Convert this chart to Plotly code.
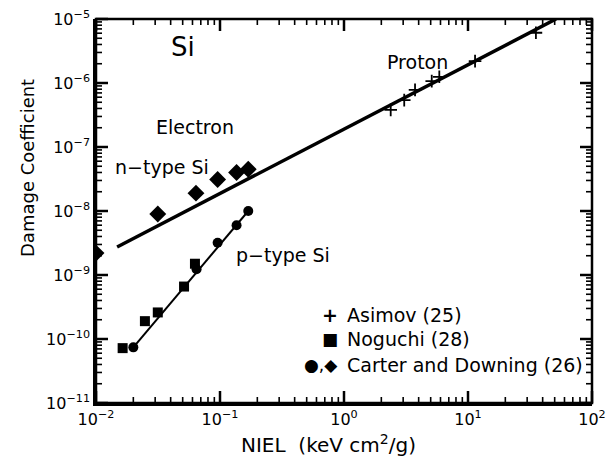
import math
import plotly.graph_objects as go

# ---- data ----
proton_x = [2.38, 3.06, 3.74, 5.10, 5.87, 11.4, 35.3]
proton_y = [3.8e-7, 5.4e-7, 7.8e-7, 1.07e-6, 1.25e-6, 2.2e-6, 6.1e-6]

noguchi_x = [0.0164, 0.0248, 0.0315, 0.0513, 0.0628]
noguchi_y = [7.2e-11, 1.9e-10, 2.6e-10, 6.6e-10, 1.5e-9]

carter_p_x = [0.020, 0.0647, 0.0957, 0.136, 0.169]
carter_p_y = [7.4e-11, 1.23e-9, 3.2e-9, 6.0e-9, 1.0e-8]

carter_n_x = [0.010, 0.0315, 0.064, 0.0957, 0.136, 0.169]
carter_n_y = [2.2e-9, 9.0e-9, 1.9e-8, 3.1e-8, 4.0e-8, 4.5e-8]

fit_n_x = [0.0148, 51.3]
fit_n_y = [2.74e-9, 1.0e-5]
fit_p_x = [0.020, 0.169]
fit_p_y = [7.4e-11, 1.0e-8]

x_decades = [-2, -1, 0, 1, 2]
y_decades = [-11, -10, -9, -8, -7, -6, -5]

FONT = "DejaVu Sans"
W, H = 615, 465
ML, MR, MT, MB = 96, 23, 19, 62
PW, PH = W - ML - MR, H - MT - MB
XR = [x_decades[0], x_decades[-1]]
YR = [y_decades[0], y_decades[-1]]

fig = go.Figure()
fig.add_trace(go.Scatter(x=fit_n_x, y=fit_n_y, mode="lines",
                         line=dict(color="black", width=3.5), showlegend=False))
fig.add_trace(go.Scatter(x=fit_p_x, y=fit_p_y, mode="lines",
                         line=dict(color="black", width=2), showlegend=False))
fig.add_trace(go.Scatter(x=noguchi_x, y=noguchi_y, mode="markers",
                         marker=dict(symbol="square", size=10, color="black"),
                         showlegend=False))
fig.add_trace(go.Scatter(x=carter_p_x, y=carter_p_y, mode="markers",
                         marker=dict(symbol="circle", size=10, color="black"),
                         showlegend=False))
fig.add_trace(go.Scatter(x=carter_n_x, y=carter_n_y, mode="markers",
                         marker=dict(symbol="diamond", size=13, color="black"),
                         showlegend=False))
fig.add_trace(go.Scatter(x=proton_x, y=proton_y, mode="markers",
                         marker=dict(symbol="cross-thin", size=9, color="black",
                                     line=dict(color="black", width=1.8)),
                         showlegend=False))

def major_vals(decades):
    return [10.0 ** d for d in decades]

def minor_vals(decades):
    vals = []
    for d in decades[:-1]:
        for m in range(2, 10):
            vals.append(m * 10.0 ** d)
    return vals

def dec_text(d):
    return "10<sup>%s</sup>" % str(d).replace("-", "−")

# inward tick marks on all four sides (axis decorations), positioned on the log scale
def add_x_ticks(vals, length_px, width):
    L = length_px / PH
    for v in vals:
        f = (math.log10(v) - XR[0]) / (XR[1] - XR[0])
        for y0, y1 in ((0, L), (1, 1 - L)):
            fig.add_shape(type="line", xref="paper", yref="paper", x0=f, x1=f,
                          y0=y0, y1=y1, line=dict(color="black", width=width),
                          layer="above")

def add_y_ticks(vals, length_px, width):
    L = length_px / PW
    for v in vals:
        f = (math.log10(v) - YR[0]) / (YR[1] - YR[0])
        for x0, x1 in ((0, L), (1, 1 - L)):
            fig.add_shape(type="line", xref="paper", yref="paper", x0=x0, x1=x1,
                          y0=f, y1=f, line=dict(color="black", width=width),
                          layer="above")

add_x_ticks(major_vals(x_decades), 12, 2.5)
add_x_ticks(minor_vals(x_decades), 6, 1.6)
add_y_ticks(major_vals(y_decades), 12, 2.5)
add_y_ticks(minor_vals(y_decades), 6, 1.6)

tickfont = dict(family=FONT, size=16, color="black")

fig.update_layout(
    template="none",
    xaxis=dict(type="log", range=XR, showgrid=False, zeroline=False,
               showline=True, linecolor="black", linewidth=2.5,
               tickmode="array", ticks="",
               tickvals=major_vals(x_decades),
               ticktext=[dec_text(d) for d in x_decades], tickfont=tickfont),
    yaxis=dict(type="log", range=YR, showgrid=False, zeroline=False,
               showline=True, linecolor="black", linewidth=2.5,
               tickmode="array", ticks="",
               tickvals=major_vals(y_decades),
               ticktext=[dec_text(d) for d in y_decades], tickfont=tickfont),
)

fig.add_shape(type="rect", xref="paper", yref="paper", x0=0, y0=0, x1=1, y1=1,
              line=dict(color="black", width=2.5), layer="above")

def px2paper(px, py):
    return (px - ML) / PW, (H - MB - py) / PH

annos = [
    ("Si", 183, 47, 26, "center"),
    ("Electron", 195, 127, 19, "center"),
    ("n−type Si", 162, 167, 19, "center"),
    ("Proton", 417, 62, 19, "center"),
    ("p−type Si", 283, 255, 19, "center"),
    ("Asimov (25)", 345, 315, 19, "left"),
    ("Noguchi (28)", 345, 339, 19, "left"),
    ("Carter and Downing (26)", 345, 365, 19, "left"),
    ("<b>+</b>", 340, 315, 19, "right"),
    ("■", 340, 339, 17, "right"),
    ("●,◆", 340, 365, 17, "right"),
]
for text, px, py, size, anchor in annos:
    x, y = px2paper(px, py)
    fig.add_annotation(text=text, x=x, y=y, xref="paper", yref="paper",
                       xanchor=anchor, yanchor="middle", showarrow=False,
                       font=dict(family=FONT, size=size, color="black"))

tx, ty = px2paper(27, 168)
fig.add_annotation(text="Damage Coefficient", x=tx, y=ty, xref="paper", yref="paper",
                   xanchor="center", yanchor="middle", textangle=-90, showarrow=False,
                   font=dict(family=FONT, size=18, color="black"))
tx, ty = px2paper(328, 444)
fig.add_annotation(text="NIEL  (keV cm<sup>2</sup>/g)", x=tx, y=ty, xref="paper", yref="paper",
                   xanchor="center", yanchor="middle", showarrow=False,
                   font=dict(family=FONT, size=20, color="black"))

fig.update_layout(width=W, height=H, plot_bgcolor="white", paper_bgcolor="white",
                  margin=dict(l=ML, r=MR, t=MT, b=MB), showlegend=False)

fig.write_html("out.html", config={"displayModeBar": False},
               post_script="document.body.style.margin='0px';")
